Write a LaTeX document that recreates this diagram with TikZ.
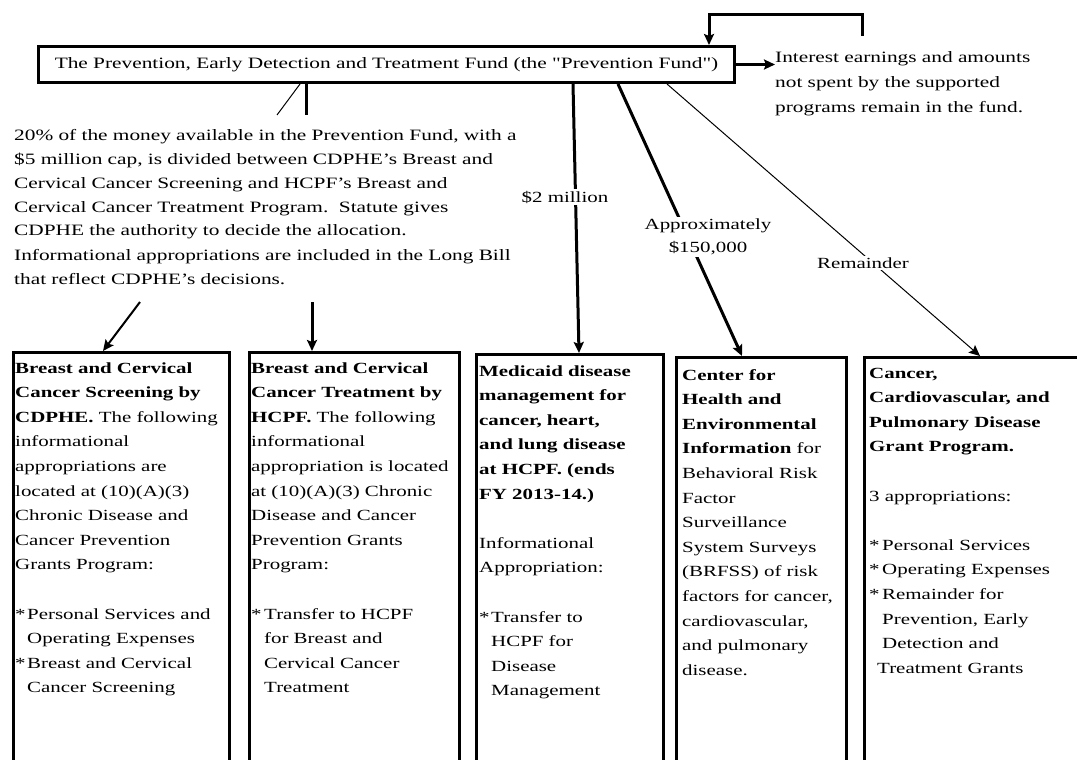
\documentclass[tikz,border=0pt]{standalone}
\usepackage{fontspec}
\setmainfont{Liberation Serif}[FakeStretch=1.35]
\newfontfamily\qfont{Liberation Serif}[FakeStretch=1.35, Ligatures=TeXOff]
\usetikzlibrary{arrows.meta}
\newcommand\txtfont{\fontsize{15.5}{24.6}\selectfont}
\newcommand\sq{{\qfont"}}
\tikzset{
  fundbox/.style={draw, line width=3pt, rectangle, minimum width=696, minimum height=36, inner sep=0, anchor=north west, font=\fontsize{15.8}{18}\selectfont},
  prog/.style={draw, line width=3pt, rectangle, minimum width=#1, minimum height=440, anchor=north west, inner sep=0},
  boxtext/.style={anchor=base west, inner sep=0, text width=260pt, align=left, font=\txtfont},
  freetext/.style={anchor=base west, inner sep=0, text width=#1, align=left},
  lbl/.style={fill=white, inner sep=2pt, align=center, font=\fontsize{15.5}{23}\selectfont},
  heavy/.style={line width=3pt},
  medium/.style={line width=2pt},
  light/.style={line width=1pt},
  arr/.style={-{Stealth[length=11pt,width=10pt,inset=2pt]}},
}
\begin{document}
\begin{tikzpicture}[x=1pt,y=-1pt]
\useasboundingbox (0,0) rectangle (1077,760);
\clip (0,0) rectangle (1077,760);

% top fund box
\node[fundbox] (fund) at (37,45) {The Prevention, Early Detection and Treatment Fund (the \sq Prevention Fund\sq)};

% interest text
\node[freetext=300pt, font=\fontsize{15.8}{25}\selectfont] (interest) at (775,63)
  {Interest earnings and amounts\\not spent by the supported\\programs remain in the fund.};

% feedback loop
\coordinate (fb) at (862,36);
\draw[heavy, arr] (fb) -- (862,15) -| ([xshift=672]fund.north west);
\draw[heavy, arr] (fund.east) -- (fund.east -| interest.west);

% paragraph
\node[freetext=560pt, font=\fontsize{15.8}{24}\selectfont] (para) at (14,140)
  {20\% of the money available in the Prevention Fund, with a\\
   \$5 million cap, is divided between CDPHE's Breast and\\
   Cervical Cancer Screening and HCPF's Breast and\\
   Cervical Cancer Treatment Program.\ \ Statute gives\\
   CDPHE the authority to decide the allocation.\\
   Informational appropriations are included in the Long Bill\\
   that reflect CDPHE's decisions.};

\coordinate (pa) at (277,115);
\coordinate (pb) at (306,115);
\draw[light] ([xshift=263]fund.south west) -- (pa);
\draw[heavy] ([xshift=269]fund.south west) -- (pb);

% program boxes
\node[prog=216] (b1) at (12,351) {};
\node[prog=210] (b2) at (248,351) {};
\node[prog=187] (b3) at (475,353) {};
\node[prog=170] (b4) at (675,356) {};
\node[prog=240] (b5) at (863,356) {};

\coordinate (pc) at (140,302);
\coordinate (pd) at (312,302);
\draw[medium, arr] (pc) -- ([xshift=91]b1.north west);
\draw[heavy, arr] (pd) -- ([xshift=64]b2.north west);

\draw[heavy, arr] ([xshift=536]fund.south west) -- ([xshift=104]b3.north west);
\draw[heavy, arr] ([xshift=581]fund.south west) -- ([xshift=67]b4.north west);
\draw[light, arr] ([xshift=630]fund.south west) -- ([xshift=117]b5.north west);

\node[lbl] (l1) at (565,197) {\$2 million};
\node[lbl] (l2) at (708,237) {Approximately\\\$150,000};
\node[lbl] (l3) at (863,263) {Remainder};

% box texts
\node[boxtext] (t1) at (15,373) {\textbf{Breast and Cervical}\\
  \textbf{Cancer Screening by}\\
  \textbf{CDPHE.} The following\\
  informational\\
  appropriations are\\
  located at (10)(A)(3)\\
  Chronic Disease and\\
  Cancer Prevention\\
  Grants Program:\\[24.6pt]
  \makebox[12pt][l]{*}Personal Services and\\
  \hspace*{12pt}Operating Expenses\\
  \makebox[12pt][l]{*}Breast and Cervical\\
  \hspace*{12pt}Cancer Screening};

\node[boxtext] (t2) at (251,373) {\textbf{Breast and Cervical}\\
  \textbf{Cancer Treatment by}\\
  \textbf{HCPF.} The following\\
  informational\\
  appropriation is located\\
  at (10)(A)(3) Chronic\\
  Disease and Cancer\\
  Prevention Grants\\
  Program:\\[24.6pt]
  \makebox[13pt][l]{*}Transfer to HCPF\\
  \hspace*{13pt}for Breast and\\
  \hspace*{13pt}Cervical Cancer\\
  \hspace*{13pt}Treatment};

\node[boxtext] (t3) at (479,376) {\textbf{Medicaid disease}\\
  \textbf{management for}\\
  \textbf{cancer, heart,}\\
  \textbf{and lung disease}\\
  \textbf{at HCPF. (ends}\\
  \textbf{FY 2013-14.)}\\[24.6pt]
  Informational\\
  Appropriation:\\[24.6pt]
  \makebox[12pt][l]{*}Transfer to\\
  \hspace*{12pt}HCPF for\\
  \hspace*{12pt}Disease\\
  \hspace*{12pt}Management};

\node[boxtext] (t4) at (682,380) {\textbf{Center for}\\
  \textbf{Health and}\\
  \textbf{Environmental}\\
  \textbf{Information} for\\
  Behavioral Risk\\
  Factor\\
  Surveillance\\
  System Surveys\\
  (BRFSS) of risk\\
  factors for cancer,\\
  cardiovascular,\\
  and pulmonary\\
  disease.};

\node[boxtext] (t5) at (869,378) {\textbf{Cancer,}\\
  \textbf{Cardiovascular, and}\\
  \textbf{Pulmonary Disease}\\
  \textbf{Grant Program.}\\[24.6pt]
  3 appropriations:\\[24.6pt]
  \makebox[13pt][l]{*}Personal Services\\
  \makebox[13pt][l]{*}Operating Expenses\\
  \makebox[13pt][l]{*}Remainder for\\
  \hspace*{13pt}Prevention, Early\\
  \hspace*{13pt}Detection and\\
  \hspace*{8pt}Treatment Grants};
\end{tikzpicture}
\end{document}
